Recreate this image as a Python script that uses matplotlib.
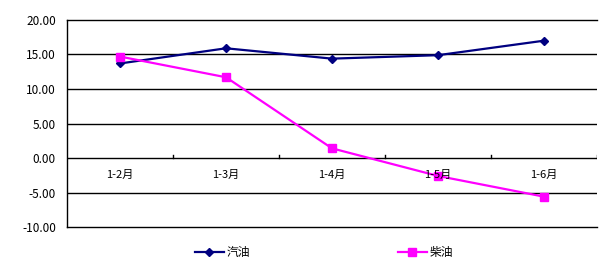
import numpy as np
import matplotlib
matplotlib.use('Agg')
import matplotlib.pyplot as plt

plt.rcParams['font.family'] = ['Noto Sans CJK SC', 'DejaVu Sans']

# 数据
categories = ['1-2月', '1-3月', '1-4月', '1-5月', '1-6月']
gasoline = [13.7, 15.9, 14.4, 14.9, 17.0]
diesel = [14.7, 11.7, 1.4, -2.6, -5.6]
yticks = [-10, -5, 0, 5, 10, 15, 20]

fig = plt.figure(figsize=(6.11, 2.72), dpi=100)
ax = fig.add_axes([0.1097, 0.1654, 0.8673, 0.7611])

x = np.arange(len(categories))
ax.plot(x, gasoline, color='#000080', marker='D', markersize=4, linewidth=1.6, label='汽油', zorder=3)
ax.plot(x, diesel, color='#FF00FF', marker='s', markersize=6, linewidth=1.6, label='柴油', zorder=3)

ax.set_xlim(-0.5, len(categories) - 0.5)
ax.set_ylim(-10, 20)
ax.set_yticks(yticks)
ax.set_yticklabels([f'{v:.2f}' for v in yticks], fontsize=8.5)
ax.tick_params(axis='y', length=0, pad=8)

# 网格线
for v in yticks[1:-1]:
    ax.axhline(v, color='black', linewidth=1, zorder=1)

# x轴在0处，刻度向上
ax.set_xticks([])
for b in np.arange(0.5, len(categories), 1):
    ax.plot([b, b], [0, 0.45], color='black', linewidth=1, zorder=2)
for i, c in enumerate(categories):
    ax.text(i, -2.5, c, ha='center', va='center', fontsize=8, zorder=4)

ax.spines['right'].set_visible(False)
for s in ['top', 'left', 'bottom']:
    ax.spines[s].set_linewidth(1)

fig.legend(loc='center', bbox_to_anchor=(0.53, 0.07), ncol=2, frameon=False,
           fontsize=8.5, columnspacing=12.5, handlelength=2.5, handletextpad=0.2)

fig.savefig('out.png', dpi=100)
